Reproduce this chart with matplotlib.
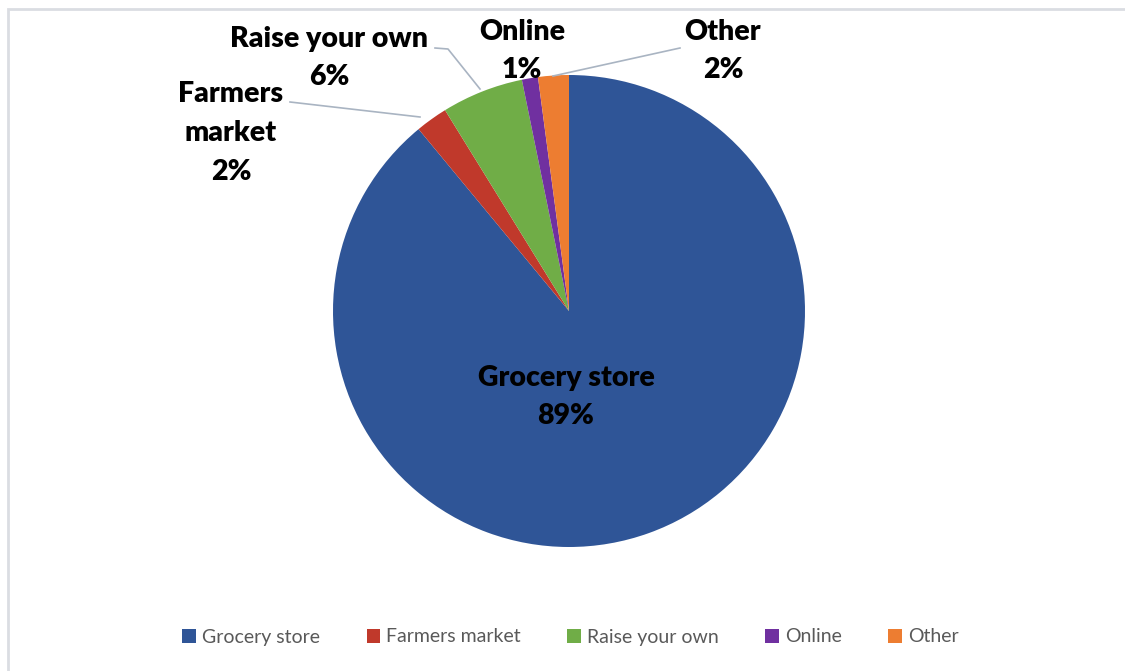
import matplotlib.pyplot as plt
from matplotlib.patches import Rectangle, Patch

# values (shares of food purchases)
categories = ["Grocery store", "Farmers market", "Raise your own", "Online", "Other"]
shares = [89.0, 2.2, 5.6, 1.1, 2.1]
colors = ["#2F5597", "#C0392B", "#70AD47", "#7030A0", "#ED7D31"]

W, H = 1125, 671
fig = plt.figure(figsize=(W / 100, H / 100), dpi=100)
fig.patch.set_facecolor("white")

# thin grey chart-area frame (left and top visible)
fig.add_artist(Rectangle((8 / W, -0.05), 1.2, 1 - 9 / H + 0.05,
                         transform=fig.transFigure, fill=False,
                         edgecolor="#DADDE2", linewidth=2.0))

cx, cy, r = 569, 311, 236
ax = fig.add_axes([(cx - r) / W, (H - cy - r) / H, 2 * r / W, 2 * r / H])
wedges, _ = ax.pie(shares, colors=colors, startangle=90, counterclock=False,
                   radius=1.0, wedgeprops=dict(linewidth=0))
ax.set_xlim(-1, 1)
ax.set_ylim(-1, 1)
ax.set_aspect("equal")
ax.axis("off")


def px(x, y):
    # pixel position -> data coordinates of the pie axes
    return (x - cx) / r, (cy - y) / r


font = dict(family=["Lato", "DejaVu Sans"], fontweight="heavy", fontsize=20.5,
            color="black", ha="center", va="center")

label_pos = {
    "Grocery store": (566, 397),
    "Farmers market": (231, 133),
    "Raise your own": (329, 58),
    "Online": (522, 51),
    "Other": (723, 51),
}
label_text = {
    "Farmers market": "Farmers\nmarket\n{}%",
}
for name, val in zip(categories, shares):
    txt = label_text.get(name, name + "\n{}%").format(round(val))
    x, y = px(*label_pos[name])
    ax.text(x, y, txt, linespacing=1.6, clip_on=False, **font)

# leader lines
line_kw = dict(color="#A9B4C2", linewidth=1.2, clip_on=False)
leaders = [
    [(290, 102), (420, 117)],
    [(435, 48), (448, 49), (480, 89)],
    [(680, 48), (553, 76)],
]
for pts in leaders:
    xs, ys = zip(*[px(*p) for p in pts])
    ax.plot(xs, ys, **line_kw)

handles = [Patch(facecolor=c, edgecolor="none") for c in colors]
fig.legend(handles, categories, loc="center", ncol=5,
           bbox_to_anchor=(0.507, 1 - 637 / H), frameon=False,
           prop=dict(family=["Lato", "DejaVu Sans"], size=14),
           labelcolor="#595959", handlelength=0.7, handleheight=0.7,
           handletextpad=0.3, columnspacing=2.4)

plt.savefig("out.png", dpi=100)
